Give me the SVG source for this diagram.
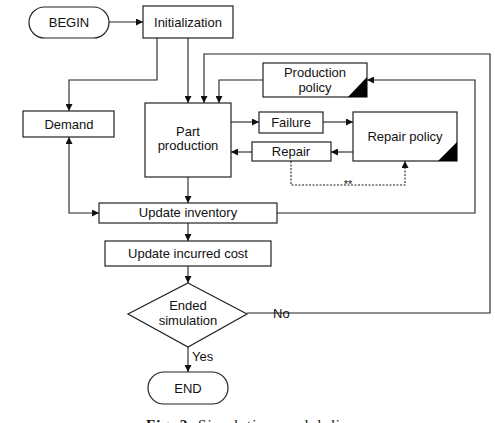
<svg xmlns="http://www.w3.org/2000/svg" width="495" height="423" viewBox="0 0 495 423">
<defs>
<marker id="ah" viewBox="0 0 10 10" refX="10" refY="5" markerWidth="7" markerHeight="7" markerUnits="userSpaceOnUse" orient="auto-start-reverse">
<path d="M0,0 L10,5 L0,10 z" fill="#111"/>
</marker>
</defs>
<style>
.box{fill:#fff;stroke:#222;stroke-width:1.2}
.t{font-family:"Liberation Sans",Arial,sans-serif;font-size:13px;fill:#111;text-anchor:middle}
.c{fill:none;stroke:#222;stroke-width:1.1}
.d{fill:none;stroke:#222;stroke-width:1.1;stroke-dasharray:2,1.5}
.tri{fill:#000}
</style>
<rect width="495" height="423" fill="#fff"/>
<g id="connectors">
<path class="c" d="M109,22 H143" marker-end="url(#ah)"/>
<path class="c" d="M157,38 V80 H69 V111" marker-end="url(#ah)"/>
<path class="c" d="M188,38 V103" marker-end="url(#ah)"/>
<path class="c" d="M263,80 H219 V103" marker-end="url(#ah)"/>
<path class="c" d="M247,313 H490 V54 H204 V103" marker-end="url(#ah)"/>
<path class="c" d="M277,213 H475 V80 H367" marker-end="url(#ah)"/>
<path class="c" d="M231,122 H259" marker-end="url(#ah)"/>
<path class="c" d="M323,122 H353" marker-end="url(#ah)"/>
<path class="c" d="M353,152 H331" marker-end="url(#ah)"/>
<path class="c" d="M252,152 H231" marker-end="url(#ah)"/>
<path class="d" d="M291,161 V185 H405 V161" marker-end="url(#ah)"/>
<path class="c" d="M69,137 V213 H99" marker-start="url(#ah)" marker-end="url(#ah)"/>
<path class="c" d="M188,177 V203" marker-end="url(#ah)"/>
<path class="c" d="M188,223 V241" marker-end="url(#ah)"/>
<path class="c" d="M188,266 V283" marker-end="url(#ah)"/>
<path class="c" d="M188,347 V372" marker-end="url(#ah)"/>
<text class="t" x="348" y="188" style="font-size:11px">**</text>
<text class="t" x="273" y="318" style="text-anchor:start">No</text>
<text class="t" x="192" y="361" style="text-anchor:start">Yes</text>
</g>
<g id="begin">
<rect class="box" x="29" y="7" width="80" height="31" rx="15.5"/>
<text class="t" x="69" y="27">BEGIN</text>
</g>
<g id="initialization">
<rect class="box" x="143" y="6" width="90" height="32"/>
<text class="t" x="188" y="27">Initialization</text>
</g>
<g id="production-policy">
<rect class="box" x="263" y="63" width="104" height="34"/>
<path class="tri" d="M348,97 L367,97 L367,77 z"/>
<text class="t" x="315" y="77">Production</text>
<text class="t" x="315" y="92">policy</text>
</g>
<g id="demand">
<rect class="box" x="23" y="111" width="91" height="26"/>
<text class="t" x="69" y="129">Demand</text>
</g>
<g id="part-production">
<rect class="box" x="145" y="103" width="86" height="74"/>
<text class="t" x="188" y="136">Part</text>
<text class="t" x="188" y="150">production</text>
</g>
<g id="failure">
<rect class="box" x="259" y="112" width="64" height="21"/>
<text class="t" x="291" y="127">Failure</text>
</g>
<g id="repair">
<rect class="box" x="252" y="142" width="79" height="19"/>
<text class="t" x="291" y="156">Repair</text>
</g>
<g id="repair-policy">
<rect class="box" x="353" y="112" width="104" height="49"/>
<path class="tri" d="M438,161 L457,161 L457,142 z"/>
<text class="t" x="405" y="141">Repair policy</text>
</g>
<g id="update-inventory">
<rect class="box" x="99" y="203" width="178" height="20"/>
<text class="t" x="188" y="217">Update inventory</text>
</g>
<g id="update-cost">
<rect class="box" x="105" y="241" width="166" height="25"/>
<text class="t" x="188" y="258">Update incurred cost</text>
</g>
<g id="ended-simulation">
<path class="box" d="M188,283 L247,314 L188,347 L128,314 z"/>
<text class="t" x="188" y="310">Ended</text>
<text class="t" x="188" y="325">simulation</text>
</g>
<g id="end">
<rect class="box" x="148" y="372" width="80" height="32" rx="16"/>
<text class="t" x="188" y="393">END</text>
</g>
<text x="146" y="430" textLength="194" lengthAdjust="spacing" style="font-family:'Liberation Serif','Times New Roman',serif;font-size:15px;fill:#111"><tspan font-weight="bold">Fig. 2.</tspan> Simulation model di</text>
</svg>
